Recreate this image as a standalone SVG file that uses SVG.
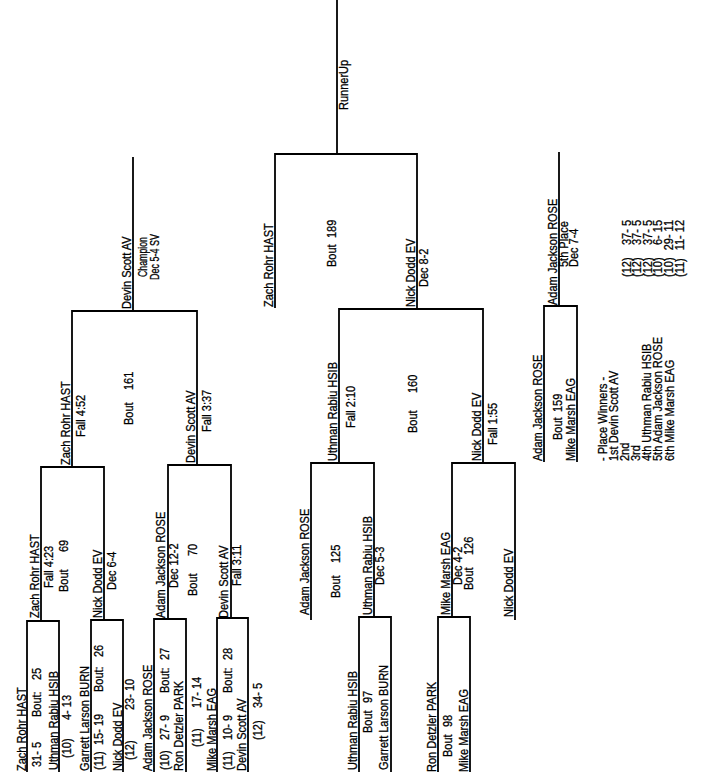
<svg xmlns="http://www.w3.org/2000/svg" width="711" height="782" viewBox="0 0 711 782" xml:space="preserve">
<style>
text{font-family:"Liberation Sans",Arial,sans-serif;font-size:11px;fill:#000;stroke:#000;stroke-width:0.25;white-space:pre}
.e{text-anchor:end}
.l{fill:none;stroke:#000;stroke-width:1.8}
</style>
<rect width="711" height="782" fill="#fff"/>
<g id="connectors" class="l">
<path d="M27,772V621H59V772"/>
<path d="M91,772V620H123V772"/>
<path d="M154,772V619H186V772"/>
<path d="M217,772V618H248V772"/>
<path d="M41,621V467H104V620"/>
<path d="M168,619V465H231V618"/>
<path d="M72,467V311H197V465"/>
<path d="M133,311V157"/>
<path d="M275,308V154H417V309"/>
<path d="M337,154V0"/>
<path d="M339,463V309H483V463"/>
<path d="M311,620V463H374V617"/>
<path d="M359,772V617H391V772"/>
<path d="M452,617V463H515V620"/>
<path d="M438,772V617H470V772"/>
<path d="M544,462V306H577V462"/>
<path d="M559,306V152"/>
</g>
<g id="bout25">
<text transform="translate(26,771) rotate(-90) scale(1,1.15)">Zach Rohr HAST</text>
<text transform="translate(41,767) rotate(-90) scale(1,1.15)"><tspan x="0">31- 5</tspan><tspan x="50">Bout:</tspan><tspan x="87">25</tspan></text>
<text transform="translate(58,770) rotate(-90) scale(1,1.15)">Uthman Rabiu HSIB</text>
<text transform="translate(71,758) rotate(-90) scale(1,1.15)"><tspan x="0">(10)</tspan><tspan x="38">4- 13</tspan></text>
</g>
<g id="bout26">
<text transform="translate(89,771) rotate(-90) scale(1,1.15)">Garrett Larson BURN</text>
<text transform="translate(103,770) rotate(-90) scale(1,1.15)"><tspan x="0">(11)</tspan><tspan x="25">15- 19</tspan><tspan x="78">Bout:</tspan><tspan x="113">26</tspan></text>
<text transform="translate(122,771) rotate(-90) scale(1,1.15)">Nick Dodd EV</text>
<text transform="translate(134,760) rotate(-90) scale(1,1.15)"><tspan x="0">(12)</tspan><tspan x="50">23- 10</tspan></text>
</g>
<g id="bout27">
<text transform="translate(152,771) rotate(-90) scale(1,1.15)">Adam Jackson ROSE</text>
<text transform="translate(169,770) rotate(-90) scale(1,1.15)"><tspan x="0">(10)</tspan><tspan x="30">27- 9</tspan><tspan x="77">Bout:</tspan><tspan x="110">27</tspan></text>
<text transform="translate(183,771) rotate(-90) scale(1,1.15)">Ron Detzler PARK</text>
<text transform="translate(201,747) rotate(-90) scale(1,1.15)"><tspan x="0">(11)</tspan><tspan x="39">17- 14</tspan></text>
</g>
<g id="bout28">
<text transform="translate(216,771) rotate(-90) scale(1,1.15)">Mike Marsh EAG</text>
<text transform="translate(232,770) rotate(-90) scale(1,1.15)"><tspan x="0">(11)</tspan><tspan x="30">10- 9</tspan><tspan x="77">Bout:</tspan><tspan x="110">28</tspan></text>
<text transform="translate(246,771) rotate(-90) scale(1,1.15)">Devin Scott AV</text>
<text transform="translate(262,740) rotate(-90) scale(1,1.15)"><tspan x="0">(12)</tspan><tspan x="32">34- 5</tspan></text>
</g>
<g id="bout69">
<text transform="translate(39,618) rotate(-90) scale(1,1.15)">Zach Rohr HAST</text>
<text transform="translate(53,588) rotate(-90) scale(1,1.15)">Fall 4:23</text>
<text transform="translate(68,592) rotate(-90) scale(1,1.15)"><tspan x="0">Bout</tspan><tspan x="40">69</tspan></text>
<text transform="translate(102,618) rotate(-90) scale(1,1.15)">Nick Dodd EV</text>
<text transform="translate(116,590) rotate(-90) scale(1,1.15)">Dec 6-4</text>
</g>
<g id="bout70">
<text transform="translate(165,618) rotate(-90) scale(1,1.15)">Adam Jackson ROSE</text>
<text transform="translate(178,588) rotate(-90) scale(1,1.15)">Dec 12-2</text>
<text transform="translate(197,596) rotate(-90) scale(1,1.15)"><tspan x="0">Bout</tspan><tspan x="40">70</tspan></text>
<text transform="translate(228,618) rotate(-90) scale(1,1.15)">Devin Scott AV</text>
<text transform="translate(241,586) rotate(-90) scale(1,1.15)">Fall 3:11</text>
</g>
<g id="bout161">
<text transform="translate(70,465) rotate(-90) scale(1,1.15)">Zach Rohr HAST</text>
<text transform="translate(85,437) rotate(-90) scale(1,1.15)">Fall 4:52</text>
<text transform="translate(133,425) rotate(-90) scale(1,1.15)"><tspan x="0">Bout</tspan><tspan x="35">161</tspan></text>
<text transform="translate(195,463) rotate(-90) scale(1,1.15)">Devin Scott AV</text>
<text transform="translate(211,432) rotate(-90) scale(1,1.15)">Fall 3:37</text>
</g>
<g id="champion">
<text transform="translate(131,309) rotate(-90) scale(1,1.15)">Devin Scott AV</text>
<text transform="translate(147,277) rotate(-90) scale(1,1.15)" textLength="40" lengthAdjust="spacingAndGlyphs">Champion</text>
<text transform="translate(159,280) rotate(-90) scale(1,1.15)" textLength="46" lengthAdjust="spacingAndGlyphs">Dec 5-4 SV</text>
</g>
<g id="bout189">
<text transform="translate(348,110) rotate(-90) scale(1,1.15)">RunnerUp</text>
<text transform="translate(273,307) rotate(-90) scale(1,1.15)">Zach Rohr HAST</text>
<text transform="translate(336,267) rotate(-90) scale(1,1.15)"><tspan x="0">Bout</tspan><tspan x="29">189</tspan></text>
<text transform="translate(415,307) rotate(-90) scale(1,1.15)">Nick Dodd EV</text>
<text transform="translate(428,287) rotate(-90) scale(1,1.15)">Dec 8-2</text>
</g>
<g id="bout160">
<text transform="translate(337,461) rotate(-90) scale(1,1.15)">Uthman Rabiu HSIB</text>
<text transform="translate(355,428) rotate(-90) scale(1,1.15)">Fall 2:10</text>
<text transform="translate(417,433) rotate(-90) scale(1,1.15)"><tspan x="0">Bout</tspan><tspan x="40">160</tspan></text>
<text transform="translate(481,461) rotate(-90) scale(1,1.15)">Nick Dodd EV</text>
<text transform="translate(497,445) rotate(-90) scale(1,1.15)">Fall 1:55</text>
</g>
<g id="bout125">
<text transform="translate(309,615) rotate(-90) scale(1,1.15)">Adam Jackson ROSE</text>
<text transform="translate(340,598) rotate(-90) scale(1,1.15)"><tspan x="0">Bout</tspan><tspan x="35">125</tspan></text>
<text transform="translate(372,615) rotate(-90) scale(1,1.15)">Uthman Rabiu HSIB</text>
<text transform="translate(384,585) rotate(-90) scale(1,1.15)">Dec 5-3</text>
</g>
<g id="bout126">
<text transform="translate(450,615) rotate(-90) scale(1,1.15)">Mike Marsh EAG</text>
<text transform="translate(462,585) rotate(-90) scale(1,1.15)">Dec 4-2</text>
<text transform="translate(473,590) rotate(-90) scale(1,1.15)"><tspan x="0">Bout</tspan><tspan x="35">126</tspan></text>
<text transform="translate(513,617) rotate(-90) scale(1,1.15)">Nick Dodd EV</text>
</g>
<g id="bout97">
<text transform="translate(357,770) rotate(-90) scale(1,1.15)">Uthman Rabiu HSIB</text>
<text transform="translate(372,733) rotate(-90) scale(1,1.15)"><tspan x="0">Bout</tspan><tspan x="30">97</tspan></text>
<text transform="translate(388,770) rotate(-90) scale(1,1.15)">Garrett Larson BURN</text>
</g>
<g id="bout98">
<text transform="translate(436,772) rotate(-90) scale(1,1.15)">Ron Detzler PARK</text>
<text transform="translate(452,757) rotate(-90) scale(1,1.15)"><tspan x="0">Bout</tspan><tspan x="30">98</tspan></text>
<text transform="translate(468,772) rotate(-90) scale(1,1.15)">Mike Marsh EAG</text>
</g>
<g id="bout159">
<text transform="translate(542,461) rotate(-90) scale(1,1.15)">Adam Jackson ROSE</text>
<text transform="translate(562,440) rotate(-90) scale(1,1.15)"><tspan x="0">Bout</tspan><tspan x="28">159</tspan></text>
<text transform="translate(575,461) rotate(-90) scale(1,1.15)">Mike Marsh EAG</text>
</g>
<g id="fifth">
<text transform="translate(557,305) rotate(-90) scale(1,1.15)">Adam Jackson ROSE</text>
<text transform="translate(568,267) rotate(-90) scale(1,1.15)">5th Place</text>
<text transform="translate(578,267) rotate(-90) scale(1,1.15)">Dec 7-4</text>
</g>
<g id="placewinners">
<text transform="translate(607,461) rotate(-90) scale(1,1.15)">- Place Winners -</text>
<text transform="translate(618,461) rotate(-90) scale(1,1.15)">1st Devin Scott AV</text>
<text transform="translate(629,461) rotate(-90) scale(1,1.15)">2nd</text>
<text transform="translate(640,461) rotate(-90) scale(1,1.15)">3rd</text>
<text transform="translate(651,461) rotate(-90) scale(1,1.15)">4th Uthman Rabiu HSIB</text>
<text transform="translate(662,461) rotate(-90) scale(1,1.15)">5th Adam Jackson ROSE</text>
<text transform="translate(674,461) rotate(-90) scale(1,1.15)">6th Mike Marsh EAG</text>
</g>
<g id="records">
<text transform="translate(631,277) rotate(-90) scale(1,1.15)"><tspan x="0">(12)</tspan><tspan class="e" x="57">37- 5</tspan></text>
<text transform="translate(641,277) rotate(-90) scale(1,1.15)"><tspan x="0">(12)</tspan><tspan class="e" x="57">37- 5</tspan></text>
<text transform="translate(652,277) rotate(-90) scale(1,1.15)"><tspan x="0">(12)</tspan><tspan class="e" x="57">37- 5</tspan></text>
<text transform="translate(662,277) rotate(-90) scale(1,1.15)"><tspan x="0">(10)</tspan><tspan class="e" x="57">6- 15</tspan></text>
<text transform="translate(673,277) rotate(-90) scale(1,1.15)"><tspan x="0">(10)</tspan><tspan class="e" x="57">29- 11</tspan></text>
<text transform="translate(684,277) rotate(-90) scale(1,1.15)"><tspan x="0">(11)</tspan><tspan class="e" x="57">11- 12</tspan></text>
</g>
</svg>
